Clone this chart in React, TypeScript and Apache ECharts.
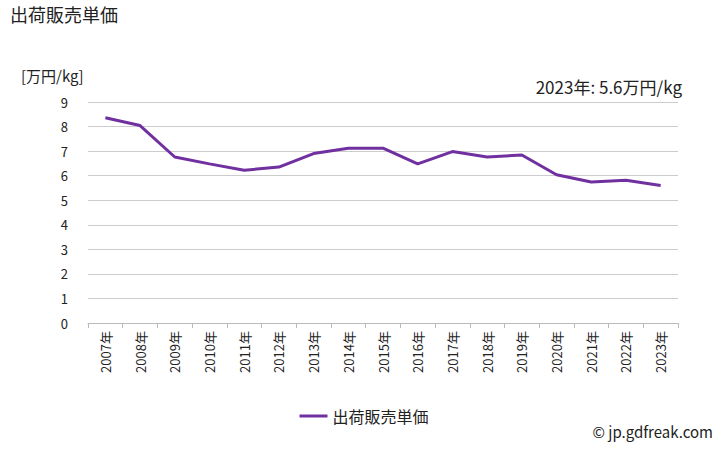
import React, { useEffect, useRef } from "react";
import * as echarts from "echarts";

const years = ["2007年","2008年","2009年","2010年","2011年","2012年","2013年","2014年","2015年","2016年","2017年","2018年","2019年","2020年","2021年","2022年","2023年"];
const prices = [8.36, 8.04, 6.76, 6.48, 6.22, 6.35, 6.9, 7.12, 7.12, 6.48, 6.98, 6.76, 6.84, 6.04, 5.74, 5.81, 5.6];
const seriesName = "出荷販売単価";
const titleText = "出荷販売単価";
const unitText = "[万円/kg]";
const noteText = "2023年: 5.6万円/kg";
const creditText = "© jp.gdfreak.com";

const FONT = "'Noto Sans CJK JP', 'Noto Sans', sans-serif";

export default function App() {
  const ref = useRef<HTMLDivElement>(null);
  useEffect(() => {
    if (!ref.current) return;
    const chart = echarts.init(ref.current, null, { renderer: "svg" });
    chart.setOption({
      animation: false,
      backgroundColor: "#fff",
      textStyle: { fontFamily: FONT },
      grid: { left: 88, right: 50, top: 102, bottom: 127 },
      graphic: [
        { type: "text", left: 10, top: 5, style: { text: titleText, font: `18px ${FONT}`, fill: "#222" } },
        { type: "text", left: 21, top: 68, style: { text: unitText, font: `15px ${FONT}`, fill: "#222" } },
        { type: "text", right: 46, top: 78, style: { text: noteText, font: `17px ${FONT}`, fill: "#222" } },
        { type: "text", right: 15, top: 424, style: { text: creditText, font: `15px ${FONT}`, fill: "#222" } },
      ],
      legend: {
        bottom: 21,
        left: "center",
        data: [seriesName],
        itemWidth: 28,
        itemHeight: 3,
        icon: "rect",
        itemGap: 2,
        textStyle: { fontSize: 16, color: "#222", fontFamily: FONT },
      },
      xAxis: {
        type: "category",
        data: years,
        boundaryGap: true,
        axisLine: { lineStyle: { color: "#bbb" } },
        axisTick: { show: true, lineStyle: { color: "#bbb" }, length: 5 },
        axisLabel: { rotate: 90, fontSize: 13, color: "#222", interval: 0, margin: 8, fontFamily: FONT },
      },
      yAxis: {
        type: "value",
        min: 0,
        max: 9,
        interval: 1,
        axisLine: { show: false },
        axisTick: { show: false },
        axisLabel: { fontSize: 13, color: "#222", margin: 20, fontFamily: FONT },
        splitLine: { lineStyle: { color: "#ccc", width: 1 } },
      },
      series: [
        {
          name: seriesName,
          type: "line",
          data: prices,
          symbol: "none",
          lineStyle: { color: "#7030a0", width: 3 },
          itemStyle: { color: "#7030a0" },
        },
      ],
    });
    return () => chart.dispose();
  }, []);
  return <div ref={ref} style={{ width: 728, height: 450, position: "absolute", left: 0, top: 0 }} />;
}
